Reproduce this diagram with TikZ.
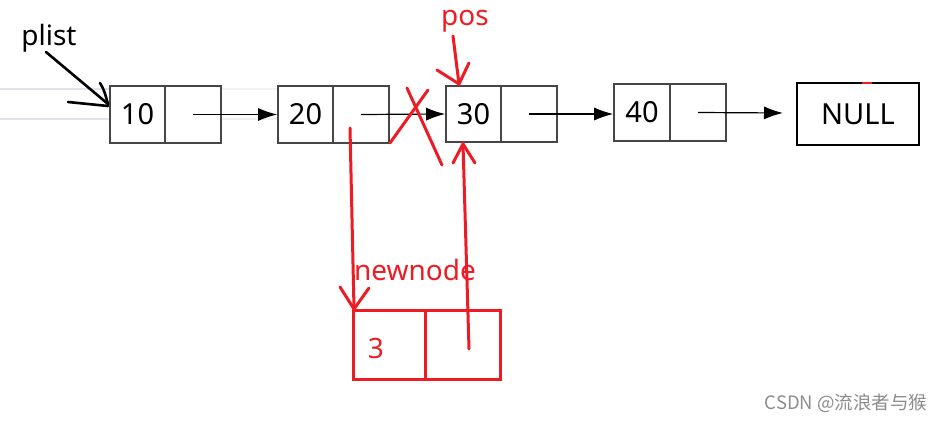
\documentclass[tikz,border=0pt]{standalone}
\usepackage{fontspec}
\setmainfont{Noto Sans}
\newfontfamily\cjk{Noto Sans CJK SC}
\usetikzlibrary{arrows.meta}
\definecolor{hred}{RGB}{237,28,36}
\definecolor{boxline}{RGB}{70,70,70}
\definecolor{faint}{RGB}{226,226,236}
\definecolor{fainter}{RGB}{240,240,245}
\tikzset{
  cell/.style={draw=boxline,line width=1.6pt,minimum height=57pt,inner sep=0pt,font=\fontsize{29}{32}\selectfont},
  redcell/.style={draw=hred,line width=3pt,minimum height=69pt,inner sep=0pt},
  link/.style={line width=1.2pt,-{Latex[length=19pt,width=13pt]}},
  redpen/.style={draw=hred,line width=3pt,line cap=round},
  blackpen/.style={draw=black,line width=2.6pt,line cap=round},
  lbl/.style={inner sep=0pt,font=\fontsize{28}{32}\selectfont},
}
\begin{document}
\begin{tikzpicture}[x=1pt,y=-1pt]
\useasboundingbox (0,0) rectangle (947,422);
% faint background lines
\draw[fainter,line width=2.5pt] (110,89) -- (280,89);
\draw[fainter,line width=2.5pt] (110,119) -- (280,119);
\draw[faint,line width=2.5pt] (0,89) -- (110,89);
\draw[faint,line width=2.5pt] (0,119) -- (110,119);
% list cells
\node[cell,fill=white,minimum width=55pt] (n10d) at (137.5,114.5) {10};
\node[cell,fill=white,minimum width=56pt] (n10p) at (193,114.5) {};
\node[cell,fill=white,minimum width=55pt] (n20d) at (305.5,114.5) {20};
\node[cell,minimum width=56pt] (n20p) at (361,114.5) {};
\node[cell,minimum width=55pt,minimum height=56pt] (n30d) at (473.5,114) {30};
\node[cell,minimum width=56pt,minimum height=56pt] (n30p) at (529,114) {};
\node[cell,minimum width=56pt] (n40d) at (642,112.5) {40};
\node[cell,minimum width=56pt] (n40p) at (698,112.5) {};
\node[draw=black,line width=1.4pt,minimum width=122pt,minimum height=62pt,inner sep=0pt,font=\fontsize{29}{32}\selectfont] (null) at (858,114) {NULL};
\coordinate (end40) at (783,113);
% links
\draw[link] (n10p.center) -- (n20d.west);
\draw[link] (n20p.center) -- (n30d.west);
\draw[link] (n30p.center) -- (n30p.center -| n40d.west);
\draw[link] (n40p.center) -- (end40);
% plist
\node[lbl] (plist) at (49,38) {plist};
\coordinate (pl1) at (46,52);
\coordinate (pl2) at (108,104);
\coordinate (pl3) at (100,83);
\coordinate (pl4) at (68,102);
\draw[blackpen] (pl1) -- (pl2);
\draw[blackpen] (pl3) .. controls (104,90) .. (pl2);
\draw[blackpen] (pl4) -- (108,106);
% pos
\node[lbl,text=hred] (pos) at (465,21) {pos};
\coordinate (ps1) at (453,36);
\coordinate (ps2) at (459,84);
\draw[redpen] (ps1) -- (ps2);
\draw[redpen] (437,70) -- (ps2) -- (469,63);
% X
\coordinate (x1) at (390,143);
\coordinate (x2) at (428,90);
\coordinate (x3) at (407,88);
\coordinate (x4) at (442,165);
\draw[redpen] (x1) -- (x2);
\draw[redpen] (x3) -- (x4);
% newnode
\node[redcell,minimum width=72pt] (nnd) at (389,344.5) {};
\node[redcell,minimum width=75pt] (nnp) at (462.5,344.5) {};
\node[lbl,text=hred] (t3) at (376,349) {3};
\node[lbl,text=hred] (nnlbl) at (415,270) {newnode};
% red links
\coordinate (d1) at (350,128);
\coordinate (d2) at (354,309);
\draw[redpen] (d1) -- (d2);
\draw[redpen] (340,287) -- (d2) -- (369,288);
\coordinate (u1) at (469,349);
\coordinate (u2) at (463,144);
\draw[redpen] (u1) -- (u2);
\draw[redpen] (453,163) -- (u2) -- (475,163);
% small red dash
\draw[hred,line width=2pt] (862,83) -- (872,83);
% watermark
\node[inner sep=0pt,text=black!45,font=\cjk\fontsize{18.5}{20}\selectfont] (wm) at (846,403) {CSDN @流浪者与猴};
\end{tikzpicture}
\end{document}
